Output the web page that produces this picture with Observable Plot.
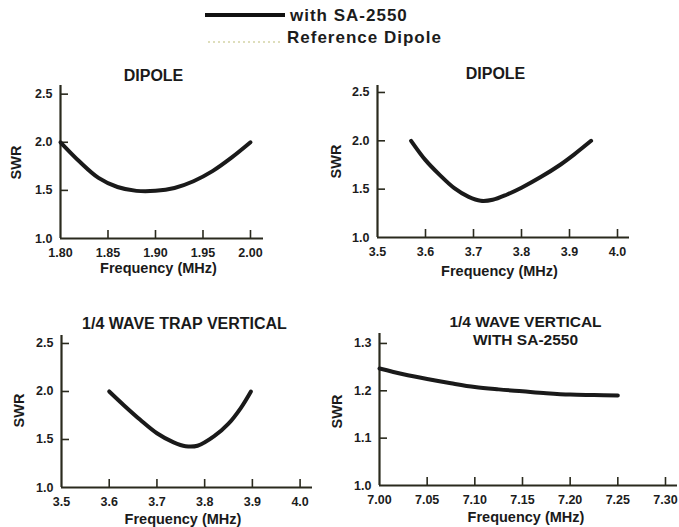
<!DOCTYPE html>
<html>
<head>
<meta charset="utf-8">
<script src="https://cdn.jsdelivr.net/npm/d3@7"></script>
<script src="https://cdn.jsdelivr.net/npm/@observablehq/plot@0.6"></script>
<style>
  html, body { margin: 0; padding: 0; background: #fff; }
  #root { position: relative; width: 679px; height: 527px; overflow: hidden; font-family: "Liberation Sans", Arial, Helvetica, sans-serif; font-weight: bold; color: #1c1c1c; }
  .panel { position: absolute; }
  .lg { position: absolute; font-size: 17px; letter-spacing: 1px; white-space: nowrap; line-height: 1; }
</style>
</head>
<body>
<div id="root">
  <div style="position:absolute;left:205px;top:13px;width:80px;height:4px;background:#111;"></div>
  <div class="lg" style="left:290px;top:7px;">with SA-2550</div>
  <svg style="position:absolute;left:205px;top:40px;" width="80" height="4"><line x1="3" y1="2" x2="75" y2="2" stroke="#bdbd78" stroke-width="1.2" stroke-dasharray="2,3"/></svg>
  <div class="lg" style="left:287px;top:29px;">Reference Dipole</div>
</div>
<script>
// ---- data ----
const p1Freq = [1.80, 1.82, 1.84, 1.86, 1.88, 1.90, 1.92, 1.94, 1.96, 1.98, 2.00];
const p1Swr  = [2.00, 1.80, 1.63, 1.535, 1.495, 1.495, 1.525, 1.595, 1.70, 1.84, 2.00];

const p2Freq = [3.57, 3.60, 3.63, 3.66, 3.69, 3.715, 3.74, 3.77, 3.80, 3.84, 3.88, 3.91, 3.945];
const p2Swr  = [2.00, 1.80, 1.645, 1.51, 1.42, 1.38, 1.39, 1.445, 1.515, 1.625, 1.75, 1.86, 2.00];

const p3Freq = [3.60, 3.63, 3.665, 3.70, 3.735, 3.76, 3.785, 3.82, 3.85, 3.876, 3.897];
const p3Swr  = [2.00, 1.86, 1.705, 1.565, 1.47, 1.43, 1.435, 1.535, 1.665, 1.83, 2.00];

const p4Freq = [7.00, 7.025, 7.05, 7.075, 7.10, 7.125, 7.15, 7.175, 7.20, 7.225, 7.25];
const p4Swr  = [1.247, 1.235, 1.225, 1.216, 1.208, 1.203, 1.199, 1.195, 1.192, 1.191, 1.190];

const p1XTicks = [1.80, 1.85, 1.90, 1.95, 2.00];
const p2XTicks = [3.5, 3.6, 3.7, 3.8, 3.9, 4.0];
const p3XTicks = [3.5, 3.6, 3.7, 3.8, 3.9, 4.0];
const p4XTicks = [7.00, 7.05, 7.10, 7.15, 7.20, 7.25, 7.30];
const swrTicks = [1.0, 1.5, 2.0, 2.5];
const p4YTicks = [1.0, 1.1, 1.2, 1.3];

const titles = ["DIPOLE", "DIPOLE", "1/4 WAVE TRAP VERTICAL", "1/4 WAVE VERTICAL\nWITH SA-2550"];
const xLabel = "Frequency (MHz)";
const yLabel = "SWR";

// ---- layout (page pixels) ----
const panels = [
  {freq: p1Freq, swr: p1Swr, xt: p1XTicks, yt: swrTicks, xf: ".2f", yf: ".1f",
   L: 0, T: 50, W: 312, H: 240, fl: 60, fr: 263, ft: 85, fb: 238,
   xd: [1.80, 2.0137], yd: [1.0, 2.59], tfs: 16,
   title: titles[0], tpos: [153, 74.5], xlpos: [158, 268], ylpos: [16, 162]},
  {freq: p2Freq, swr: p2Swr, xt: p2XTicks, yt: swrTicks, xf: ".1f", yf: ".1f",
   L: 316, T: 50, W: 363, H: 240, fl: 377, fr: 629, ft: 85, fb: 237,
   xd: [3.5, 4.025], yd: [1.0, 2.572], tfs: 16,
   title: titles[1], tpos: [495, 72.5], xlpos: [499, 271], ylpos: [336, 161]},
  {freq: p3Freq, swr: p3Swr, xt: p3XTicks, yt: swrTicks, xf: ".1f", yf: ".1f",
   L: 0, T: 295, W: 316, H: 232, fl: 61, fr: 312, ft: 335, fb: 487,
   xd: [3.5, 4.026], yd: [1.0, 2.583], tfs: 16,
   title: titles[2], tpos: [184, 323], xlpos: [182.5, 519], ylpos: [19, 410]},
  {freq: p4Freq, swr: p4Swr, xt: p4XTicks, yt: p4YTicks, xf: ".2f", yf: ".1f",
   L: 316, T: 295, W: 363, H: 232, fl: 379, fr: 677, ft: 333, fb: 485,
   xd: [7.0, 7.3126], yd: [1.0, 1.321], tfs: 15.5,
   title: titles[3], tpos: [525, 330], xlpos: [525.5, 517], ylpos: [337, 411]}
];

const axisColor = "#2a2a1e";
const font = "'Liberation Sans', Arial, Helvetica, sans-serif";
const root = document.getElementById("root");

for (const p of panels) {
  const data = p.freq.map((f, i) => ({f, s: p.swr[i]}));
  const fw = p.fr - p.fl, fh = p.fb - p.ft;
  const rel = ([x, y]) => ({dx: x - p.fl, dy: y - p.ft});
  const tr = rel(p.tpos), xr = rel(p.xlpos), yr = rel(p.ylpos);
  const chart = Plot.plot({
    width: p.W, height: p.H,
    marginLeft: p.fl - p.L, marginRight: p.L + p.W - p.fr,
    marginTop: p.ft - p.T, marginBottom: p.T + p.H - p.fb,
    style: {background: "transparent", color: "#1c1c1c", fontFamily: font, overflow: "visible"},
    x: {domain: p.xd},
    y: {domain: p.yd},
    marks: [
      Plot.axisX({ticks: p.xt, tickSize: 0, tickPadding: 10, tickFormat: d3.format(p.xf), fontSize: 12.5, fontWeight: "bold", label: null}),
      Plot.axisY({ticks: p.yt, tickSize: 0, tickPadding: 8, tickFormat: d3.format(p.yf), fontSize: 12.5, fontWeight: "bold", label: null}),
      Plot.tickX(p.xt.slice(1), {x: d => d, stroke: axisColor, strokeWidth: 1.6, insetTop: fh - 8}),
      Plot.tickY(p.yt.slice(1), {y: d => d, stroke: axisColor, strokeWidth: 1.6, insetRight: fw - 8}),
      Plot.ruleX([p.xd[0]], {stroke: axisColor, strokeWidth: 2.2}),
      Plot.ruleY([p.yd[0]], {stroke: axisColor, strokeWidth: 2.2}),
      Plot.line(data, {x: "f", y: "s", curve: "catmull-rom", stroke: "#1a1a1a", strokeWidth: 4}),
      Plot.text([p.title], {frameAnchor: "top-left", dx: tr.dx, dy: tr.dy, fontSize: p.tfs, lineHeight: 1.15, fontWeight: "bold", textAnchor: "middle", lineAnchor: "middle", fill: "#1a1a1a"}),
      Plot.text([xLabel], {frameAnchor: "top-left", dx: xr.dx, dy: xr.dy, fontSize: 14.5, fontWeight: "bold", textAnchor: "middle", lineAnchor: "middle", fill: "#1a1a1a"}),
      Plot.text([yLabel], {frameAnchor: "top-left", dx: yr.dx, dy: yr.dy, rotate: -90, fontSize: 14.5, fontWeight: "bold", textAnchor: "middle", lineAnchor: "middle", fill: "#1a1a1a"})
    ]
  });
  chart.classList.add("panel");
  chart.style.left = p.L + "px";
  chart.style.top = p.T + "px";
  root.appendChild(chart);
}
</script>
</body>
</html>
